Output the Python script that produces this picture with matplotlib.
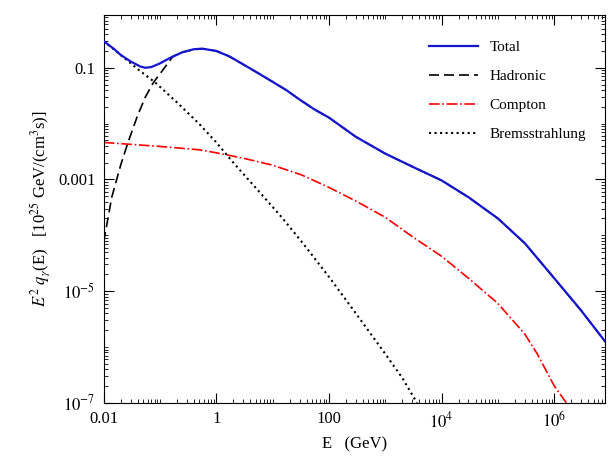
import numpy as np
import matplotlib.pyplot as plt
from matplotlib.ticker import LogLocator, FixedLocator, FixedFormatter, NullFormatter

plt.rcParams['font.family'] = ['Liberation Serif', 'DejaVu Serif']
plt.rcParams['mathtext.fontset'] = 'stix'

# values (E in GeV)
total_E = [0.01, 0.015, 0.02, 0.03, 0.045, 0.055, 0.07, 0.1, 0.15, 0.25, 0.4, 0.56, 1, 1.7, 3, 5, 10, 18, 30, 55, 100,
           300, 1e3, 3e3, 1e4, 3e4, 1e5, 3e5, 1e6, 3e6, 8e6]
total_q = [0.30, 0.22, 0.17, 0.13, 0.105, 0.10, 0.103, 0.12, 0.15, 0.19, 0.215, 0.22, 0.2, 0.16, 0.115, 0.085, 0.056, 0.039, 0.027, 0.018, 0.0128,
           0.0058, 0.0029, 0.0017, 0.00096, 4.8e-4, 2e-4, 7.2e-5, 1.7e-5, 4.5e-6, 1.25e-6]

had_E = [0.01, 0.0139, 0.02, 0.027, 0.04, 0.055, 0.076, 0.12, 0.17, 0.25, 0.4, 0.56]
had_q = [7.6e-5, 4.8e-4, 0.0018, 0.0046, 0.014, 0.03, 0.054, 0.1, 0.16, 0.19, 0.212, 0.218]

comp_E = [0.01, 0.1, 0.5, 1, 3, 10, 33, 100, 300, 1e3, 3e3, 1e4, 3e4, 1e5, 3e5, 5e5, 1e6, 1.64e6]
comp_q = [0.0046, 0.0039, 0.0034, 0.0030, 0.0024, 0.0018, 0.0012, 7.2e-4, 4.1e-4, 2.1e-4, 9.5e-5, 4.2e-5, 1.7e-5, 6e-6, 1.7e-6, 7.5e-7, 2e-7, 1e-7]

brem_E = [0.01, 0.02, 0.04, 0.083, 0.2, 0.5, 1, 2, 4.4, 14.5, 33, 100, 300, 1000, 2000, 3650]
brem_q = [0.30, 0.17, 0.095, 0.054, 0.024, 0.0098, 0.0046, 0.002, 0.00082, 2.1e-4, 7.6e-5, 1.8e-5, 4e-6, 7.5e-7, 2.8e-7, 1e-7]

fig, ax = plt.subplots(figsize=(6.1, 4.7), dpi=100)
fig.subplots_adjust(left=0.17, right=0.992, top=0.968, bottom=0.143)

ax.loglog(total_E, total_q, color='#1515d0', lw=1.6, label='Total', zorder=3)
ax.loglog(had_E + total_E[11:], had_q + total_q[11:], color='black', ls=(0, (6, 3)), lw=1.2, label='Hadronic')
ax.loglog(comp_E, comp_q, color='red', ls='-.', lw=1.2, label='Compton')
ax.loglog(brem_E, brem_q, color='black', ls=':', lw=1.5, label='Bremsstrahlung')

ax.set_xlim(0.01, 8e6)
ax.set_ylim(1e-7, 0.88)

xt = [0.01, 1, 100, 1e4, 1e6]
ax.xaxis.set_major_locator(FixedLocator(xt))
ax.xaxis.set_major_formatter(FixedFormatter(['0.01', '1', '100', '$10^4$', '$10^6$']))
ax.xaxis.set_minor_locator(LogLocator(base=10, subs=np.arange(1, 10), numticks=30))
ax.xaxis.set_minor_formatter(NullFormatter())
yt = [1e-7, 1e-5, 1e-3, 0.1]
ax.yaxis.set_major_locator(FixedLocator(yt))
ax.yaxis.set_major_formatter(FixedFormatter(['$10^{-7}$', '$10^{-5}$', '0.001', '0.1']))
ax.yaxis.set_minor_locator(LogLocator(base=10, subs=np.arange(1, 10), numticks=30))
ax.yaxis.set_minor_formatter(NullFormatter())
ax.tick_params(which='both', direction='in', top=True, right=True, labelsize=12, pad=6)
ax.tick_params(which='major', length=7)
ax.tick_params(which='minor', length=3)

ax.set_xlabel('E   (GeV)', fontsize=12)
ax.set_ylabel('$E^2\\ q_\\gamma$(E)   [10$^{25}$ GeV/(cm$^3$s)]', fontsize=12)
ax.legend(loc='upper right', frameon=False, fontsize=11, handlelength=3.2,
          labelspacing=1.0, bbox_to_anchor=(0.99, 0.97))

fig.savefig('out.png', dpi=100)
